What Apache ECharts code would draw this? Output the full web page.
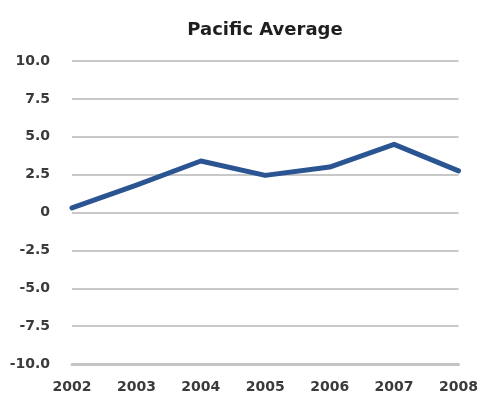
<!DOCTYPE html>
<html>
<head>
<meta charset="utf-8">
<script src="https://cdn.jsdelivr.net/npm/echarts@6/dist/echarts.min.js"></script>
<style>
html,body{margin:0;padding:0;background:#fff;}
#chart{width:481px;height:394px;}
</style>
</head>
<body>
<div id="chart"></div>
<script>
var years = ['2002', '2003', '2004', '2005', '2006', '2007', '2008'];
var pacificAverage = [0.3, 1.8, 3.4, 2.45, 3.0, 4.5, 2.75];
var yMin = -10, yMax = 10, yStep = 2.5;

var chart = echarts.init(document.getElementById('chart'), null, {renderer: 'canvas'});
chart.setOption({
  backgroundColor: '#ffffff',
  animation: false,
  title: {
    text: 'Pacific Average',
    left: 260,
    top: 16,
    textAlign: 'center',
    textStyle: {fontFamily: 'DejaVu Sans', fontWeight: 'bold', fontSize: 18, color: '#1e1e1e'}
  },
  grid: {left: 72, right: 19, top: 61, bottom: 30, containLabel: false},
  xAxis: {
    type: 'category',
    data: years,
    boundaryGap: false,
    axisLine: {show: true, onZero: false, lineStyle: {color: '#c4c4c4', width: 3}},
    axisTick: {show: false},
    splitLine: {show: false},
    axisLabel: {
      margin: 16,
      fontFamily: 'DejaVu Sans', fontWeight: 'bold', fontSize: 14, color: '#3a3a3a'
    }
  },
  yAxis: {
    type: 'value',
    min: yMin, max: yMax, interval: yStep,
    axisLine: {show: false},
    axisTick: {show: false},
    splitLine: {show: true, lineStyle: {color: '#c8c8c8', width: 2}},
    axisLabel: {
      margin: 22,
      fontFamily: 'DejaVu Sans', fontWeight: 'bold', fontSize: 14, color: '#3a3a3a',
      formatter: function (v) { return v === 0 ? '0' : v.toFixed(1); }
    }
  },
  series: [{
    type: 'line',
    data: pacificAverage,
    showSymbol: false,
    symbol: 'none',
    lineStyle: {color: '#2b5592', width: 5, join: 'round', cap: 'round'}
  }]
});
</script>
</body>
</html>
